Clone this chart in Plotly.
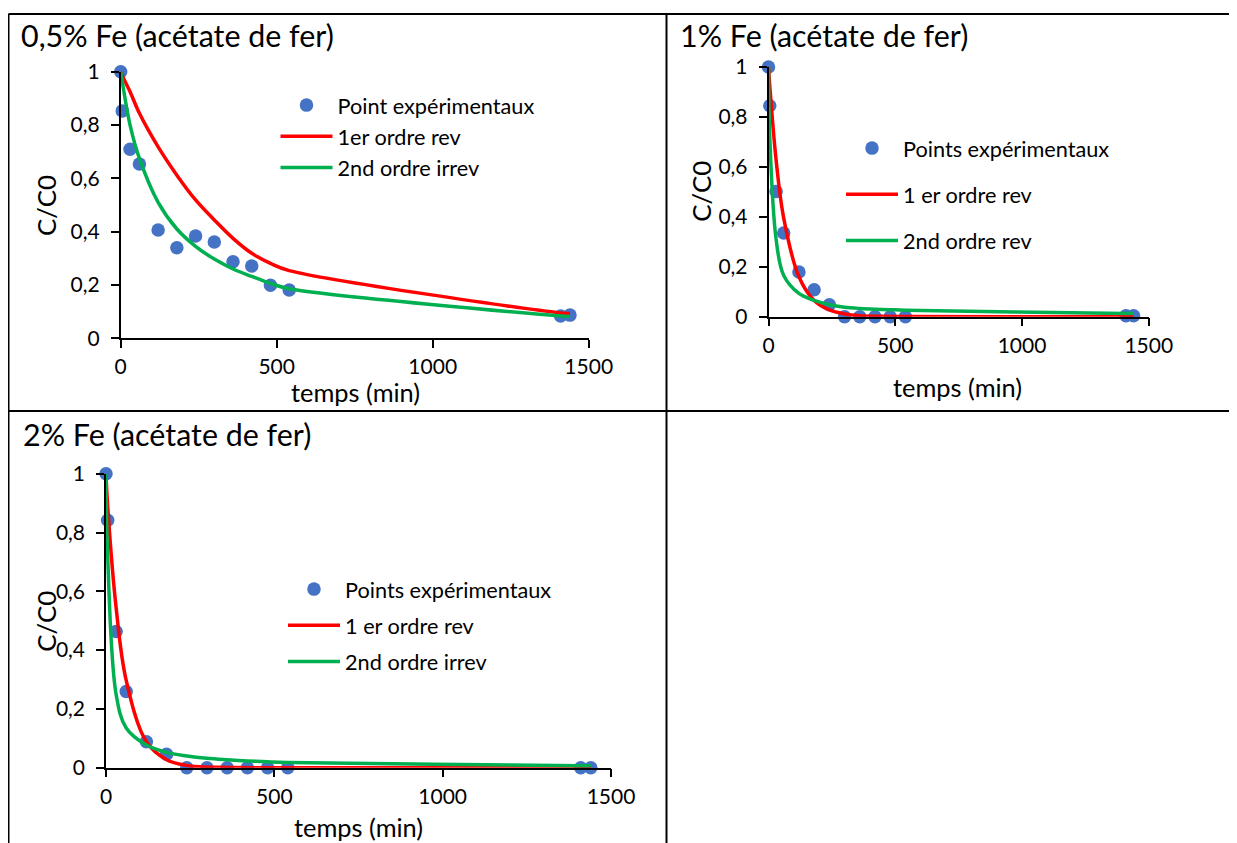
import plotly.graph_objects as go

W, H = 1237, 843

# ---------------- data ----------------
temps = [0, 5, 30, 60, 120, 180, 240, 300, 360, 420, 480, 540, 1410, 1440]

# 0,5 % Fe
exp_05 = [1.0, 0.853, 0.709, 0.654, 0.406, 0.340, 0.384, 0.361, 0.287, 0.271, 0.199, 0.181, 0.084, 0.087]
rev1_05 = [1.0, 0.985, 0.925, 0.844, 0.718, 0.612, 0.519, 0.444, 0.375, 0.319, 0.281, 0.254, 0.095, 0.093]
irr2_05 = [1.0, 0.963, 0.800, 0.675, 0.510, 0.410, 0.345, 0.297, 0.260, 0.232, 0.206, 0.186, 0.084, 0.082]

# 1 % Fe
exp_1 = [1.0, 0.845, 0.501, 0.335, 0.179, 0.108, 0.048, 0.0, 0.0, 0.0, 0.0, 0.0, 0.004, 0.004]
rev1_1 = [1.0, 0.925, 0.627, 0.395, 0.160, 0.065, 0.027, 0.011, 0.004, 0.002, 0.001, 0.0005, 0.0, 0.0]
rev2_1 = [1.0, 0.720, 0.310, 0.165, 0.093, 0.065, 0.048, 0.038, 0.033, 0.030, 0.028, 0.026, 0.013, 0.013]

# 2 % Fe
exp_2 = [1.0, 0.842, 0.463, 0.259, 0.088, 0.046, 0.0, 0.0, 0.0, 0.0, 0.0, 0.0, 0.0, 0.0]
rev1_2 = [1.0, 0.890, 0.545, 0.297, 0.088, 0.027, 0.008, 0.002, 0.001, 0.0, 0.0, 0.0, 0.0, 0.0]
irr2_2 = [1.0, 0.720, 0.250, 0.135, 0.077, 0.052, 0.040, 0.032, 0.027, 0.023, 0.020, 0.018, 0.007, 0.007]

x_tick_vals = [0, 500, 1000, 1500]
x_tick_text = ["0", "500", "1000", "1500"]
y_tick_vals = [0, 0.2, 0.4, 0.6, 0.8, 1]
y_tick_text = ["0", "0,2", "0,4", "0,6", "0,8", "1"]

titles = ["0,5% Fe (acétate de fer)", "1% Fe (acétate de fer)", "2% Fe (acétate de fer)"]
legend_names = [
    ["Point expérimentaux", "1er ordre rev", "2nd ordre irrev"],
    ["Points expérimentaux", "1 er ordre rev", "2nd ordre rev"],
    ["Points expérimentaux", "1 er ordre rev", "2nd ordre irrev"],
]
series = [
    (exp_05, rev1_05, irr2_05),
    (exp_1, rev1_1, rev2_1),
    (exp_2, rev1_2, irr2_2),
]
x_title = "temps (min)"
y_title = "C/C0"

# ---------------- layout (pixels) ----------------
FONT = "Lato"
BLUE, RED, GREEN = "#4472C4", "#FF0000", "#00B050"
ITEMW = 52
OFF = 8  # page offset of the figure (body margin)

def px(x):
    return (x - OFF) / W

def py(y):
    return 1 - (y - OFF) / H

panels = [
    dict(box=(120.7, 588.7, 71.7, 338.3), title=(19, 35.5), xt=(355.8, 392), yt=(46, 206),
         leg=(339.5, 106, 27.5)),
    dict(box=(768.5, 1148.8, 67.0, 316.7), title=(678, 35.5), xt=(957.5, 387.5), yt=(701, 191.7),
         leg=(905, 149, 47)),
    dict(box=(106.0, 611.0, 473.7, 767.7), title=(20.5, 434), xt=(358.5, 826.5), yt=(46, 621.7),
         leg=(347, 590, 37)),
]

fig = go.Figure()
annotations = []
layout_extra = {}

for i, (p, (e, r, g), names, title) in enumerate(zip(panels, series, legend_names, titles)):
    k = "" if i == 0 else str(i + 1)
    xa, ya = "x" + k, "y" + k
    leg = "legend" + k
    fig.add_trace(go.Scatter(x=temps, y=e, mode="markers", name=names[0],
                             marker=dict(color=BLUE, size=13.5), xaxis=xa, yaxis=ya,
                             legend=leg, legendgroup=f"a{i}", cliponaxis=False))
    fig.add_trace(go.Scatter(x=temps, y=r, mode="lines", name=names[1],
                             line=dict(color=RED, width=3.5, shape="spline", smoothing=1),
                             xaxis=xa, yaxis=ya, legend=leg, legendgroup=f"b{i}", cliponaxis=False))
    fig.add_trace(go.Scatter(x=temps, y=g, mode="lines", name=names[2],
                             line=dict(color=GREEN, width=3.5, shape="spline", smoothing=1),
                             xaxis=xa, yaxis=ya, legend=leg, legendgroup=f"c{i}", cliponaxis=False))

    x0, x1, yt_, yb = p["box"]
    axis_common = dict(showgrid=False, zeroline=False, showline=True, linecolor="#000",
                       linewidth=1.5, ticks="outside", ticklen=8, tickwidth=1.5, tickcolor="#000",
                       automargin=False,
                       tickfont=dict(family=FONT, size=21, color="#000"))
    layout_extra["xaxis" + k] = dict(axis_common, domain=[px(x0), px(x1)], range=[0, 1500],
                                     tickvals=x_tick_vals, ticktext=x_tick_text,
                                     anchor=ya, fixedrange=True, ticklabelstandoff=1)
    layout_extra["yaxis" + k] = dict(axis_common, domain=[py(yb), py(yt_)], range=[0, 1],
                                     tickvals=y_tick_vals, ticktext=y_tick_text,
                                     anchor=xa, fixedrange=True, ticklabelstandoff=7)
    lx, ly, sp = p["leg"]
    layout_extra[leg] = dict(x=px(lx - ITEMW - 12), y=py(ly - 21.5), xanchor="left", yanchor="top",
                             bgcolor="rgba(0,0,0,0)", font=dict(family=FONT, size=21.7, color="#000"),
                             tracegroupgap=max(sp - 32, 0), itemwidth=ITEMW)

    annotations.append(dict(text=title, x=px(p["title"][0]), y=py(p["title"][1]), xref="paper",
                            yref="paper", xanchor="left", yanchor="middle", showarrow=False,
                            font=dict(family=FONT, size=30.4, color="#000")))
    annotations.append(dict(text=x_title, x=px(p["xt"][0]), y=py(p["xt"][1]), xref="paper",
                            yref="paper", xanchor="center", yanchor="middle", showarrow=False,
                            font=dict(family=FONT, size=25.4, color="#000")))
    annotations.append(dict(text=y_title, x=px(p["yt"][0]), y=py(p["yt"][1]), xref="paper",
                            yref="paper", xanchor="center", yanchor="middle", showarrow=False,
                            textangle=-90, font=dict(family=FONT, size=25.8, color="#000")))

# table borders
border = dict(color="#000", width=2)
shapes = [
    dict(type="line", xref="paper", yref="paper", x0=px(8.5), x1=px(1236), y0=py(14), y1=py(14), line=border),
    dict(type="line", xref="paper", yref="paper", x0=px(8.5), x1=px(1236), y0=py(411), y1=py(411), line=border),
    dict(type="line", xref="paper", yref="paper", x0=px(8.5), x1=px(8.5), y0=py(14), y1=py(851), line=border),
    dict(type="line", xref="paper", yref="paper", x0=px(666.5), x1=px(666.5), y0=py(14), y1=py(851), line=border),
    dict(type="line", xref="paper", yref="paper", x0=px(1236), x1=px(1236), y0=py(14), y1=py(851), line=border),
]

fig.update_layout(width=W, height=H, margin=dict(l=0, r=0, t=0, b=0, autoexpand=False),
                  paper_bgcolor="white", plot_bgcolor="rgba(0,0,0,0)",
                  font=dict(family=FONT, color="#000"), showlegend=True,
                  annotations=annotations, shapes=shapes, **layout_extra)

fig.write_html("out.html")
